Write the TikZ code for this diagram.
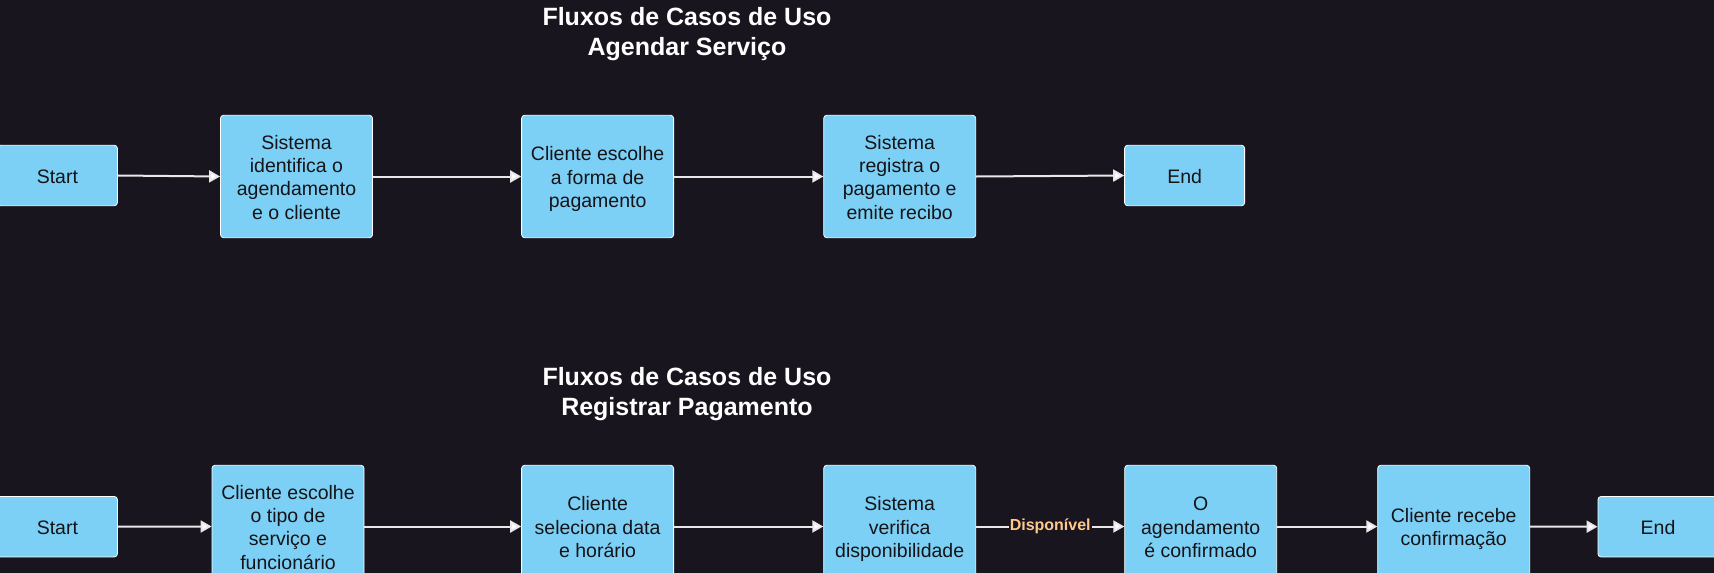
\documentclass[tikz,border=0pt]{standalone}
\usepackage{fontspec}
\setmainfont{Liberation Sans}
\usetikzlibrary{arrows.meta}
\definecolor{bg}{RGB}{24,21,30}
\definecolor{boxfill}{RGB}{125,208,245}
\definecolor{boxtext}{RGB}{20,20,24}
\definecolor{linecol}{RGB}{232,232,232}
\definecolor{labelcol}{RGB}{255,200,140}
\newcommand\fstl{\rule{0pt}{22.4pt}}
\newcommand\lstl{\rule[-7pt]{0pt}{7pt}}
\tikzset{
  flowbox/.style={rectangle, rounded corners=3pt, draw=white, line width=0.8pt,
    fill=boxfill, text=boxtext, align=center, inner sep=2pt,
    minimum width=152pt, minimum height=122.4pt,
    font=\fontsize{19.5}{23.4}\selectfont},
  termbox/.style={flowbox, minimum width=120pt, minimum height=60.4pt},
  titletext/.style={text=white, align=center, inner sep=0pt,
    font=\bfseries\fontsize{25}{30}\selectfont},
  flowarrow/.style={draw=linecol, line width=2pt,
    -{Triangle[length=11pt,width=12pt,fill=white]}},
  edgelabel/.style={fill=bg, text=labelcol, inner sep=1pt,
    font=\bfseries\fontsize{16}{19}\selectfont}
}
\begin{document}
\begin{tikzpicture}[x=1pt,y=-1pt]
\fill[bg] (0,0) rectangle (1714,573);
\useasboundingbox (0,0) rectangle (1714,573);
\clip (0,0) rectangle (1714,573);

% Title 1
\node[titletext] (title1) at (687,34.5) {Fluxos de Casos de Uso\\Agendar Serviço};

% Top row
\node[termbox] (s1) at (57.4,175.5) {\fstl Start\lstl};
\node[flowbox] (t1) at (296.5,176.5) {\fstl Sistema\\identifica o\\agendamento\\e o cliente\lstl};
\node[flowbox] (t2) at (597.6,176.5) {\fstl Cliente escolhe\\a forma de\\pagamento\lstl};
\node[flowbox] (t3) at (899.7,176.5) {\fstl Sistema\\registra o\\pagamento e\\emite recibo\lstl};
\node[termbox] (e1) at (1184.6,175.5) {\fstl End\lstl};

\draw[flowarrow] (s1.east) -- (t1.west);
\draw[flowarrow] (t1.east) -- (t2.west);
\draw[flowarrow] (t2.east) -- (t3.west);
\draw[flowarrow] (t3.east) -- (e1.west);

% Title 2
\node[titletext] (title2) at (687,394.5) {Fluxos de Casos de Uso\\Registrar Pagamento};

% Bottom row
\node[termbox] (s2) at (57.4,526.7) {\fstl Start\lstl};
\node[flowbox] (b1) at (288,526.5) {\fstl Cliente escolhe\\o tipo de\\serviço e\\funcionário\lstl};
\node[flowbox] (b2) at (597.6,526.5) {\fstl Cliente\\seleciona data\\e horário\lstl};
\node[flowbox] (b3) at (899.7,526.5) {\fstl Sistema\\verifica\\disponibilidade\lstl};
\node[flowbox] (b4) at (1200.7,526.5) {\fstl O\\agendamento\\é confirmado\lstl};
\node[flowbox] (b5) at (1453.7,526.5) {\fstl Cliente recebe\\confirmação\lstl};
\node[termbox] (e2) at (1658,526.7) {\fstl End\lstl};

\draw[flowarrow] (s2.east) -- (b1.west);
\draw[flowarrow] (b1.east) -- (b2.west);
\draw[flowarrow] (b2.east) -- (b3.west);
\draw[flowarrow] (b3.east) -- node[edgelabel] (lbl) {Disponível} (b4.west);
\draw[flowarrow] (b4.east) -- (b5.west);
\draw[flowarrow] (b5.east) -- (e2.west);
\end{tikzpicture}
\end{document}
